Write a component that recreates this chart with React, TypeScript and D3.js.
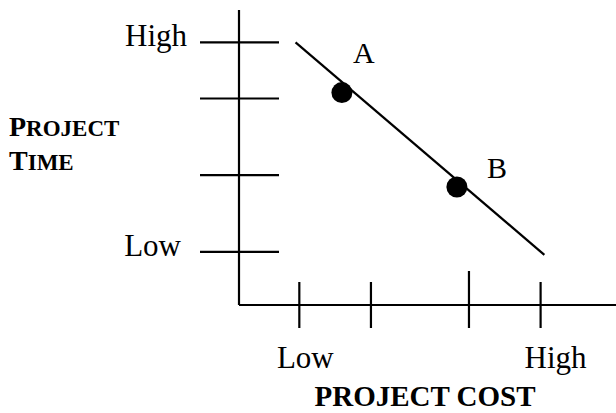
import { useRef, useEffect } from 'react';
import * as d3 from 'd3';

const WIDTH = 616;
const HEIGHT = 413;

// conceptual scale 0..100 on both axes
const costTicks = [16, 35, 61, 80];
const timeTicks = [18, 44, 70, 89];
const costTickLabels = ['Low', '', '', 'High'];
const timeTickLabels = ['Low', '', '', 'High'];

const tradeoffCost = [15, 81];
const tradeoffTime = [89, 17];

const pointNames = ['A', 'B'];
const pointCost = [27.3, 57.8];
const pointTime = [72, 40];

const FONT = '"Liberation Serif", "Times New Roman", serif';

const App = () => {
  const svgRef = useRef<SVGSVGElement>(null);

  useEffect(() => {
    const svg = d3.select(svgRef.current);
    svg.selectAll('*').remove();

    const x = d3.scaleLinear().domain([0, 100]).range([239, 616]);
    const y = d3.scaleLinear().domain([0, 100]).range([305, 10]);

    const g = svg.append('g')
      .attr('font-family', FONT)
      .attr('fill', '#000');

    // axes
    g.append('line')
      .attr('x1', x(0)).attr('x2', x(0))
      .attr('y1', y(100)).attr('y2', y(0))
      .attr('stroke', '#000').attr('stroke-width', 2.2);
    g.append('line')
      .attr('x1', x(0)).attr('x2', x(100))
      .attr('y1', y(0)).attr('y2', y(0))
      .attr('stroke', '#000').attr('stroke-width', 2.2);

    // time ticks (cross the y axis)
    g.selectAll('.ytick')
      .data(timeTicks)
      .join('line')
      .attr('class', 'ytick')
      .attr('x1', x(0) - 39).attr('x2', x(0) + 40)
      .attr('y1', d => y(d)).attr('y2', d => y(d))
      .attr('stroke', '#000').attr('stroke-width', 2.2);

    g.selectAll('.ylabel')
      .data(timeTicks)
      .join('text')
      .attr('class', 'ylabel')
      .attr('x', (d, i) => (i === 0 ? 181 : 187))
      .attr('y', d => y(d) + 4)
      .attr('text-anchor', 'end')
      .attr('font-size', 31)
      .text((d, i) => timeTickLabels[i]);

    // cost ticks (cross the x axis)
    g.selectAll('.xtick')
      .data(costTicks)
      .join('line')
      .attr('class', 'xtick')
      .attr('x1', d => x(d)).attr('x2', d => x(d))
      .attr('y1', (d, i) => y(0) - (i === 2 ? 34 : 23))
      .attr('y2', y(0) + 23)
      .attr('stroke', '#000').attr('stroke-width', 2.2);

    g.selectAll('.xlabel')
      .data(costTicks)
      .join('text')
      .attr('class', 'xlabel')
      .attr('x', d => x(d) + (d > 50 ? 15 : 6))
      .attr('y', 368)
      .attr('text-anchor', 'middle')
      .attr('font-size', 31)
      .text((d, i) => costTickLabels[i]);

    // trade-off line
    const line = d3.line<number>()
      .x(d => x(d))
      .y((d, i) => y(tradeoffTime[i]));

    g.append('path')
      .datum(tradeoffCost)
      .attr('fill', 'none')
      .attr('stroke', '#000')
      .attr('stroke-width', 2.2)
      .attr('d', line);

    // points
    g.selectAll('.pt')
      .data(pointNames)
      .join('circle')
      .attr('class', 'pt')
      .attr('cx', (d, i) => x(pointCost[i]))
      .attr('cy', (d, i) => y(pointTime[i]))
      .attr('r', 10.5)
      .attr('fill', '#000');

    g.selectAll('.ptlabel')
      .data(pointNames)
      .join('text')
      .attr('class', 'ptlabel')
      .attr('x', (d, i) => x(pointCost[i]) + (i === 0 ? 22 : 40))
      .attr('y', (d, i) => y(pointTime[i]) - (i === 0 ? 30 : 9))
      .attr('text-anchor', 'middle')
      .attr('font-size', 30)
      .text(d => d);

    // axis titles
    g.append('text')
      .attr('x', 425)
      .attr('y', 406)
      .attr('text-anchor', 'middle')
      .attr('font-size', 29)
      .attr('font-weight', 'bold')
      .text('PROJECT COST');

    const smallCaps = (word: string, yPos: number) => {
      const t = g.append('text')
        .attr('x', 9)
        .attr('y', yPos)
        .attr('font-weight', 'bold');
      t.append('tspan').attr('font-size', 28).text(word[0]);
      t.append('tspan').attr('font-size', 23).text(word.slice(1));
    };
    smallCaps('PROJECT', 136);
    smallCaps('TIME', 170);
  }, []);

  return (
    <svg
      ref={svgRef}
      width={WIDTH}
      height={HEIGHT}
      style={{ position: 'absolute', left: 0, top: 0, background: '#fff' }}
    />
  );
};

export default App;
